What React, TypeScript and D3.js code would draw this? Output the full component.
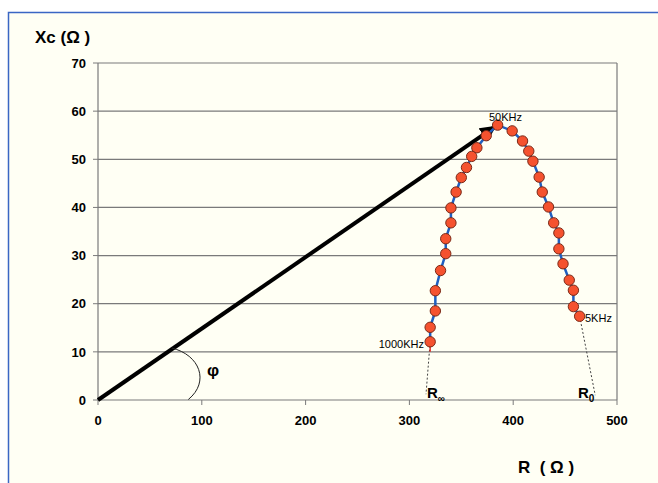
import * as d3 from "d3";

// impedance points, ordered from 5KHz to 1000KHz
const resistance = [
  464, 458, 458, 454, 448, 444, 444, 439, 434, 428, 425, 419, 415, 409, 399,
  385,
  374, 365, 360, 355, 350, 345, 340, 340, 335, 335, 330, 325, 325, 320, 320,
];
const reactance = [
  17.4, 19.4, 22.8, 24.9, 28.3, 31.4, 34.7, 36.8, 40.1, 43.2, 46.3, 49.6, 51.7, 53.8, 55.9,
  57.1,
  54.9, 52.4, 50.6, 48.3, 46.2, 43.2, 39.9, 36.8, 33.5, 30.4, 26.9, 22.7, 18.5, 15.1, 12.1,
];
const xTicks = [0, 100, 200, 300, 400, 500];
const yTicks = [0, 10, 20, 30, 40, 50, 60, 70];
const rInfinity = 316;
const rZero = 479;

const W = 658;
const H = 483;
const font = "'Liberation Sans', Arial, sans-serif";

export default function App() {
  const x = d3.scaleLinear().domain([0, 500]).range([98, 617]);
  const y = d3.scaleLinear().domain([0, 70]).range([400, 63]);

  const pts = resistance.map((r, i) => ({ r, xc: reactance[i] }));
  const line = d3
    .line<{ r: number; xc: number }>()
    .x((d) => x(d.r))
    .y((d) => y(d.xc));

  const first = pts[0];
  const last = pts[pts.length - 1];
  const peak = pts[15];

  // angle arc (hand drawn in the original)
  const arc = d3.path();
  arc.moveTo(x(71), y(10.8));
  arc.bezierCurveTo(x(98), y(9.4), x(108), y(3.8), x(87), y(0.1));

  return (
    <svg
      width={W}
      height={H}
      style={{ position: "absolute", left: 0, top: 0 }}
      fontFamily={font}
    >
      <defs>
        <marker
          id="head"
          viewBox="0 0 10 10"
          refX="8"
          refY="5"
          markerWidth="4"
          markerHeight="4"
          orient="auto"
        >
          <path d="M0,0 L10,5 L0,10 z" fill="#000" />
        </marker>
      </defs>
      <rect x={0} y={0} width={W} height={H} fill="#fff" />
      <rect
        x={8.5}
        y={12.5}
        width={W + 10}
        height={H + 10}
        fill="#fffff4"
        stroke="#3a66c4"
        strokeWidth={1.5}
      />

      {/* grid */}
      {yTicks.map((t) => (
        <line key={t} x1={x(0)} x2={x(500)} y1={y(t)} y2={y(t)} stroke="#7a7a7a" strokeWidth={1.2} />
      ))}
      <line x1={x(0)} x2={x(0)} y1={y(0)} y2={y(70)} stroke="#7a7a7a" strokeWidth={1.2} />
      <line x1={x(500)} x2={x(500)} y1={y(0)} y2={y(70)} stroke="#7a7a7a" strokeWidth={1.2} />

      {/* y axis */}
      {yTicks.map((t) => (
        <g key={t}>
          <line x1={x(0) - 5} x2={x(0)} y1={y(t)} y2={y(t)} stroke="#7a7a7a" />
          <text x={x(0) - 12} y={y(t)} dy="0.36em" textAnchor="end" fontSize={13} fontWeight="bold">
            {t}
          </text>
        </g>
      ))}
      {/* x axis */}
      {xTicks.map((t) => (
        <g key={t}>
          <line x1={x(t)} x2={x(t)} y1={y(0)} y2={y(0) + 5} stroke="#7a7a7a" />
          <text x={x(t)} y={y(0) + 25} textAnchor="middle" fontSize={13} fontWeight="bold">
            {t}
          </text>
        </g>
      ))}
      <text x={35} y={43} fontSize={17} fontWeight="bold">
        Xc (Ω )
      </text>
      <text x={518} y={473} fontSize={17} fontWeight="bold" xmlSpace="preserve">
        R  ( Ω )
      </text>

      {/* extrapolation to R0 and R∞ */}
      <line x1={x(last.r)} y1={y(last.xc)} x2={x(rInfinity)} y2={y(1.2)} stroke="#444" strokeWidth={1} strokeDasharray="2,2" />
      <line x1={x(first.r)} y1={y(first.xc)} x2={x(rZero)} y2={y(1)} stroke="#444" strokeWidth={1} strokeDasharray="2,2" />
      <line x1={x(last.r)} y1={y(last.xc)} x2={x(last.r)} y2={y(10)} stroke="#e0302a" strokeWidth={1.5} />

      {/* vector */}
      <line
        x1={x(0)}
        y1={y(0)}
        x2={x(peak.r) - 4}
        y2={y(peak.xc) + 2.5}
        stroke="#000"
        strokeWidth={4}
        markerEnd="url(#head)"
      />
      <path d={arc.toString()} fill="none" stroke="#222" strokeWidth={1} />
      <text x={207} y={376} fontSize={17} fontWeight="bold">
        φ
      </text>

      {/* curve */}
      <path d={line(pts) ?? ""} fill="none" stroke="#1f5fc0" strokeWidth={2.5} />
      {pts.map((d, i) => (
        <circle key={i} cx={x(d.r)} cy={y(d.xc)} r={5.2} fill="#f5522f" stroke="#7a2a18" strokeWidth={1} />
      ))}

      <text x={489} y={121} fontSize={11}>
        50KHz
      </text>
      <text x={424} y={348} fontSize={11} textAnchor="end">
        1000KHz
      </text>
      <text x={585} y={322} fontSize={11}>
        5KHz
      </text>

      <text x={427} y={398} fontSize={15} fontWeight="bold">
        R<tspan fontSize={10} dy={4}>∞</tspan>
      </text>
      <text x={578} y={398} fontSize={15} fontWeight="bold">
        R<tspan fontSize={10} dy={4}>0</tspan>
      </text>
    </svg>
  );
}
